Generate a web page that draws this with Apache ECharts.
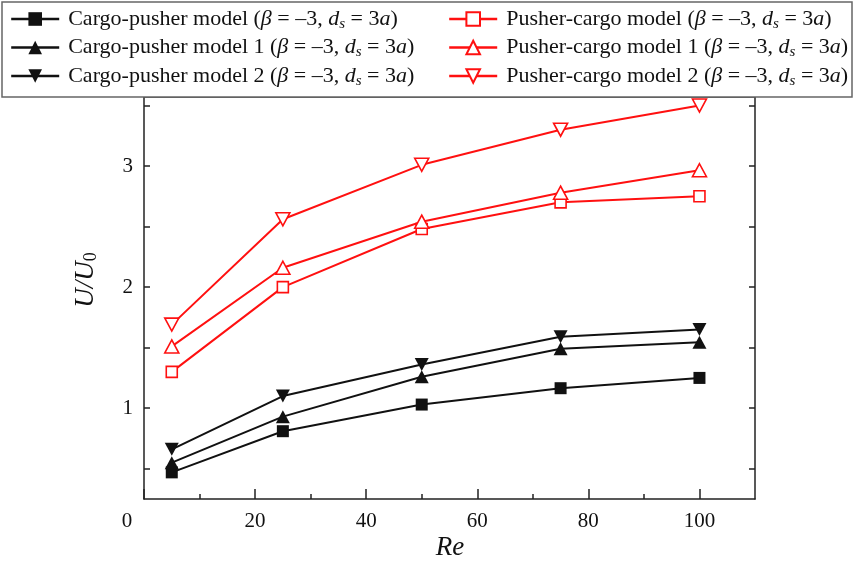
<!DOCTYPE html>
<html>
<head>
<meta charset="utf-8">
<script src="https://cdn.jsdelivr.net/npm/echarts@6/dist/echarts.min.js"></script>
<style>
  html, body { margin: 0; padding: 0; background: #fff; }
  #chart { width: 856px; height: 561px; }
</style>
</head>
<body>
<div id="chart"></div>
<script>
// Swimming speed ratio U/U0 against Reynolds number
const reValues = [5, 25, 50, 75, 100];
const cargoPusher  = [0.47, 0.81, 1.03, 1.165, 1.25];
const cargoPusher1 = [0.55, 0.93, 1.26, 1.49, 1.545];
const cargoPusher2 = [0.66, 1.10, 1.36, 1.59, 1.65];
const pusherCargo  = [1.30, 2.00, 2.48, 2.70, 2.75];
const pusherCargo1 = [1.51, 2.16, 2.54, 2.78, 2.965];
const pusherCargo2 = [1.69, 2.56, 3.01, 3.30, 3.50];

// axis ticks and labels
const xLabelTicks = [0, 20, 40, 60, 80, 100];
const xMinorTicks = [10, 30, 50, 70, 90];
const yLabelTicks = [1, 2, 3];
const yTicks = [0.5, 1, 1.5, 2, 2.5, 3, 3.5];

const SERIF = '"Liberation Serif", "Times New Roman", serif';
const BLACK = '#111111';
const RED = '#ff1010';
const DOWN_TRIANGLE = 'path://M0,0 L10,0 L5,9 Z';
const paramText = ' ({i|β} = –3, {i|d}{sub|s} = 3{i|a})';

function pairs(ys) { return reValues.map((x, i) => [x, ys[i]]); }

function makeSeries(name, ys, symbol, size, color, hollow) {
  return {
    name: name,
    type: 'line',
    data: pairs(ys),
    symbol: symbol,
    symbolSize: size,
    showSymbol: true,
    lineStyle: { color: color, width: 2 },
    itemStyle: hollow
      ? { color: '#ffffff', borderColor: color, borderWidth: 1.6 }
      : { color: color, borderColor: color, borderWidth: 0 },
    emphasis: { disabled: true },
    z: hollow ? 3 : 2
  };
}

const series = [
  makeSeries('Cargo-pusher model', cargoPusher, 'rect', 12, BLACK, false),
  makeSeries('Cargo-pusher model 1', cargoPusher1, 'triangle', [14, 13], BLACK, false),
  makeSeries('Cargo-pusher model 2', cargoPusher2, DOWN_TRIANGLE, [14, 13], BLACK, false),
  makeSeries('Pusher-cargo model', pusherCargo, 'rect', 11, RED, true),
  makeSeries('Pusher-cargo model 1', pusherCargo1, 'triangle', [14, 13], RED, true),
  makeSeries('Pusher-cargo model 2', pusherCargo2, DOWN_TRIANGLE, [14, 13], RED, true)
];

const legendText = {
  fontFamily: SERIF,
  fontSize: 22,
  color: BLACK,
  padding: [0, 0, 0, 4],
  rich: {
    i: { fontFamily: SERIF, fontSize: 22, fontStyle: 'italic', color: BLACK },
    sub: { fontFamily: SERIF, fontSize: 15, fontStyle: 'italic', color: BLACK, padding: [10, 0, 0, 0] }
  }
};

function legendBlock(left, names) {
  return {
    orient: 'vertical',
    left: left,
    top: 3,
    itemWidth: 48,
    itemHeight: 17,
    itemGap: 5,
    selectedMode: false,
    data: names,
    lineStyle: { width: 2.4 },
    textStyle: legendText,
    formatter: n => n + paramText
  };
}

const axisLineStyle = { color: '#222', width: 1.5 };

const option = {
  backgroundColor: '#ffffff',
  animation: false,
  grid: { left: 144, right: 101, top: 97, bottom: 62 },
  legend: [
    legendBlock(5, ['Cargo-pusher model', 'Cargo-pusher model 1', 'Cargo-pusher model 2']),
    legendBlock(443, ['Pusher-cargo model', 'Pusher-cargo model 1', 'Pusher-cargo model 2'])
  ],
  xAxis: [
    {
      type: 'value', min: 0, max: 110, position: 'bottom',
      axisLine: { show: true, onZero: false, lineStyle: axisLineStyle },
      axisTick: { show: true, inside: true, length: 10, customValues: xLabelTicks, lineStyle: axisLineStyle },
      axisLabel: {
        customValues: xLabelTicks,
        margin: 12,
        fontFamily: SERIF, fontSize: 21, color: BLACK,
        formatter: v => v === 0 ? '{zero|0}' : String(v),
        rich: { zero: { fontFamily: SERIF, fontSize: 21, color: BLACK, padding: [0, 34, 0, 0] } }
      },
      splitLine: { show: false }
    },
    {
      type: 'value', min: 0, max: 110, position: 'bottom',
      axisLine: { show: false },
      axisTick: { show: true, inside: true, length: 5, customValues: xMinorTicks, lineStyle: axisLineStyle },
      axisLabel: { show: false },
      splitLine: { show: false }
    },
    {
      type: 'value', min: 0, max: 110, position: 'top',
      axisLine: { show: true, onZero: false, lineStyle: axisLineStyle },
      axisTick: { show: false },
      axisLabel: { show: false },
      splitLine: { show: false }
    }
  ],
  yAxis: [
    {
      type: 'value', min: 0.25, max: 3.57, position: 'left',
      axisLine: { show: true, onZero: false, lineStyle: axisLineStyle },
      axisTick: { show: true, inside: true, length: 6, customValues: yTicks, lineStyle: axisLineStyle },
      axisLabel: {
        customValues: yLabelTicks,
        margin: 11,
        fontFamily: SERIF, fontSize: 21, color: BLACK
      },
      splitLine: { show: false }
    },
    {
      type: 'value', min: 0.25, max: 3.57, position: 'right',
      axisLine: { show: true, onZero: false, lineStyle: axisLineStyle },
      axisTick: { show: true, inside: true, length: 6, customValues: yTicks, lineStyle: axisLineStyle },
      axisLabel: { show: false },
      splitLine: { show: false }
    }
  ],
  graphic: [
    {
      type: 'rect', z: 3, silent: true,
      shape: { x: 2, y: 2, width: 850, height: 95 },
      style: { fill: '#ffffff', stroke: '#666666', lineWidth: 1.5 }
    },
    {
      type: 'text', z: 5, silent: true,
      x: 450, y: 548,
      style: {
        text: 'Re', font: 'italic 27px ' + SERIF, fill: BLACK,
        align: 'center', verticalAlign: 'middle'
      }
    },
    {
      type: 'text', z: 5, silent: true,
      x: 86, y: 280, rotation: Math.PI / 2,
      style: {
        text: '{i|U/U}{s|0}', fill: BLACK,
        align: 'center', verticalAlign: 'middle',
        rich: {
          i: { fontFamily: SERIF, fontSize: 27, fontStyle: 'italic', fill: BLACK },
          s: { fontFamily: SERIF, fontSize: 18, fill: BLACK, padding: [10, 0, 0, 0] }
        }
      }
    }
  ],
  series: series
};

const chart = echarts.init(document.getElementById('chart'), null, { renderer: 'canvas' });
chart.setOption(option);
</script>
</body>
</html>
